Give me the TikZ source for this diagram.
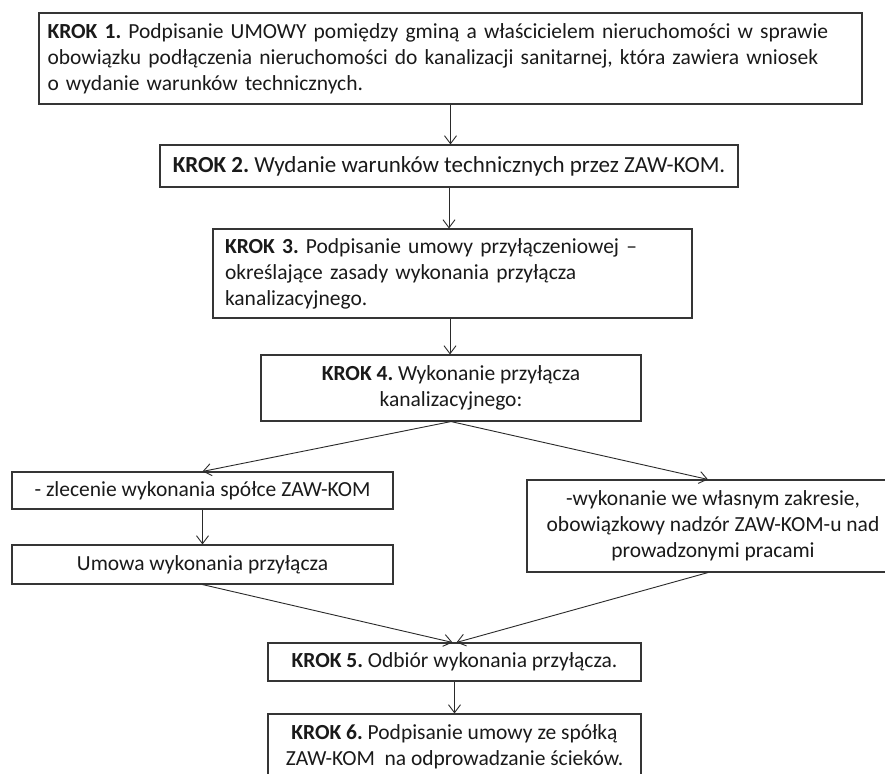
\documentclass[tikz,border=0pt]{standalone}
\usepackage{fontspec}
\setmainfont{Carlito}
\usetikzlibrary{arrows.meta,calc}
\definecolor{boxc}{HTML}{353535}
\definecolor{txtc}{HTML}{1A1A1A}
\definecolor{arrc}{HTML}{2A2A2A}
\frenchspacing
\begin{document}
\begin{tikzpicture}[x=1pt,y=-1pt,
  box/.style={draw=boxc, line width=1.1pt, fill=white, inner sep=0pt, text=txtc,
    font=\fontsize{21.5}{26}\selectfont},
  arr/.style={-{Straight Barb[length=8pt,width=12pt]}, line width=0.9pt, draw=arrc}]
\useasboundingbox (0,0) rectangle (885,773);
\clip (0,0) rectangle (885,773);
\fill[white] (0,0) rectangle (885,773);

\node[box, minimum width=823pt, minimum height=91pt, text width=806pt, align=left] (b1) at (450.5,58.5)
 {\makebox[806pt][s]{\textbf{KROK 1.} Podpisanie UMOWY pomiędzy gminą a właścicielem nieruchomości w sprawie}\\
  obowiązku podłączenia nieruchomości do kanalizacji sanitarnej, która zawiera wniosek\\
  o wydanie warunków technicznych.};

\node[box, minimum width=578pt, minimum height=42pt, font=\fontsize{23}{27}\selectfont] (b2) at (449,166)
 {\textbf{KROK 2.} Wydanie warunków technicznych przez ZAW-KOM.};

\node[box, minimum width=479pt, minimum height=89pt, text width=455pt, align=left] (b3) at (452.5,273.5)
 {\makebox[455pt][s]{\textbf{KROK 3.} Podpisanie umowy przyłączeniowej –}\\
  \makebox[455pt][s]{określające zasady wykonania przyłącza}\\
  kanalizacyjnego.};

\node[box, minimum width=380pt, minimum height=66pt, align=center] (b4) at (451,388)
 {\textbf{KROK 4.} Wykonanie przyłącza\\ kanalizacyjnego:};

\node[box, minimum width=381pt, minimum height=37pt] (lb) at (202.5,490.5)
 {- zlecenie wykonania spółce ZAW-KOM};

\node[box, minimum width=381pt, minimum height=39pt] (um) at (202.5,564.5)
 {Umowa wykonania przyłącza};

\node[box, minimum width=372pt, minimum height=92pt, align=center] (rb) at (713,526)
 {-wykonanie we własnym zakresie,\\ obowiązkowy nadzór ZAW-KOM-u nad\\ prowadzonymi pracami};

\node[box, minimum width=373pt, minimum height=38pt] (b5) at (454.5,662)
 {\textbf{KROK 5.} Odbiór wykonania przyłącza.};

\node[box, minimum width=373pt, minimum height=66pt, align=center] (b6) at (454.5,747)
 {\textbf{KROK 6.} Podpisanie umowy ze spółką\\ ZAW-KOM\ \ na odprowadzanie ścieków.};

\draw[arr] (b1.south) -- (b1.south |- b2.north);
\draw[arr] (b2.south) -- (b2.south |- b3.north);
\draw[arr] ([xshift=-2.5pt]b3.south) -- ([xshift=-2.5pt]b3.south |- b4.north);
\draw[arr] (b4.south) -- (lb.north);
\draw[arr] (b4.south) -- ([xshift=-5pt]rb.north);
\draw[arr] (lb.south) -- (um.north);
\draw[arr] (um.south) -- ([xshift=-2pt]b5.north);
\draw[arr] ([xshift=-5pt]rb.south) -- ([xshift=2pt]b5.north);
\draw[arr] (b5.south) -- (b6.north);
\end{tikzpicture}
\end{document}
